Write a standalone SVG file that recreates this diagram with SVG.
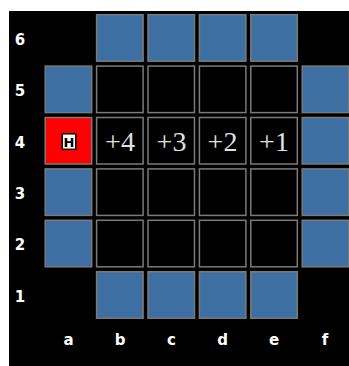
<svg xmlns="http://www.w3.org/2000/svg" width="349" height="366" viewBox="0 0 349 366">
<style>
.c{stroke:#7a7a7a;stroke-width:1.5}
.b{fill:#3d6fa3}
.k{fill:#000}
.lab{font-family:"DejaVu Sans",sans-serif;font-weight:bold;font-size:15px;fill:#fff;text-anchor:middle}
.n{font-family:"Liberation Serif",serif;font-size:28px;fill:#e0e0e0;text-anchor:middle}
</style>
<rect x="0" y="0" width="349" height="366" fill="#fff"/>
<rect x="9" y="11" width="340" height="355" fill="#000"/>
<g id="labels">
<text class="lab" x="20" y="45">6</text>
<text class="lab" x="20" y="96">5</text>
<text class="lab" x="20" y="148">4</text>
<text class="lab" x="20" y="199">3</text>
<text class="lab" x="20" y="250">2</text>
<text class="lab" x="20" y="302">1</text>
<text class="lab" x="68.5" y="345">a</text>
<text class="lab" x="120" y="345">b</text>
<text class="lab" x="171.5" y="345">c</text>
<text class="lab" x="222.5" y="345">d</text>
<text class="lab" x="274" y="345">e</text>
<text class="lab" x="325" y="345">f</text>
</g>
<g id="row6">
<rect class="c b" x="96.6" y="14.7" width="46.5" height="46.5"/>
<rect class="c b" x="148" y="14.7" width="46.5" height="46.5"/>
<rect class="c b" x="199.4" y="14.7" width="46.5" height="46.5"/>
<rect class="c b" x="250.8" y="14.7" width="46.5" height="46.5"/>
</g>
<g id="row5">
<rect class="c b" x="45.2" y="66.1" width="46.5" height="46.5"/>
<rect class="c k" x="96.6" y="66.1" width="46.5" height="46.5"/>
<rect class="c k" x="148" y="66.1" width="46.5" height="46.5"/>
<rect class="c k" x="199.4" y="66.1" width="46.5" height="46.5"/>
<rect class="c k" x="250.8" y="66.1" width="46.5" height="46.5"/>
<rect class="c b" x="302.2" y="66.1" width="46.5" height="46.5"/>
</g>
<g id="row4">
<g id="a4">
<rect class="c" fill="#ff0000" x="45.2" y="117.5" width="46.5" height="46.5"/>
<rect x="62.3" y="133.8" width="13.5" height="15.5" fill="#fff" stroke="#000" stroke-width="1.5"/>
<text x="69" y="146.5" font-family="DejaVu Sans,sans-serif" font-weight="bold" font-size="13" fill="#000" text-anchor="middle">H</text>
</g>
<g id="b4"><rect class="c k" x="96.6" y="117.5" width="46.5" height="46.5"/><text class="n" x="120" y="151">+4</text></g>
<g id="c4"><rect class="c k" x="148" y="117.5" width="46.5" height="46.5"/><text class="n" x="171.5" y="151">+3</text></g>
<g id="d4"><rect class="c k" x="199.4" y="117.5" width="46.5" height="46.5"/><text class="n" x="222.5" y="151">+2</text></g>
<g id="e4"><rect class="c k" x="250.8" y="117.5" width="46.5" height="46.5"/><text class="n" x="274" y="151">+1</text></g>
<rect class="c b" x="302.2" y="117.5" width="46.5" height="46.5"/>
</g>
<g id="row3">
<rect class="c b" x="45.2" y="168.9" width="46.5" height="46.5"/>
<rect class="c k" x="96.6" y="168.9" width="46.5" height="46.5"/>
<rect class="c k" x="148" y="168.9" width="46.5" height="46.5"/>
<rect class="c k" x="199.4" y="168.9" width="46.5" height="46.5"/>
<rect class="c k" x="250.8" y="168.9" width="46.5" height="46.5"/>
<rect class="c b" x="302.2" y="168.9" width="46.5" height="46.5"/>
</g>
<g id="row2">
<rect class="c b" x="45.2" y="220.3" width="46.5" height="46.5"/>
<rect class="c k" x="96.6" y="220.3" width="46.5" height="46.5"/>
<rect class="c k" x="148" y="220.3" width="46.5" height="46.5"/>
<rect class="c k" x="199.4" y="220.3" width="46.5" height="46.5"/>
<rect class="c k" x="250.8" y="220.3" width="46.5" height="46.5"/>
<rect class="c b" x="302.2" y="220.3" width="46.5" height="46.5"/>
</g>
<g id="row1">
<rect class="c b" x="96.6" y="271.7" width="46.5" height="46.5"/>
<rect class="c b" x="148" y="271.7" width="46.5" height="46.5"/>
<rect class="c b" x="199.4" y="271.7" width="46.5" height="46.5"/>
<rect class="c b" x="250.8" y="271.7" width="46.5" height="46.5"/>
</g>
</svg>
